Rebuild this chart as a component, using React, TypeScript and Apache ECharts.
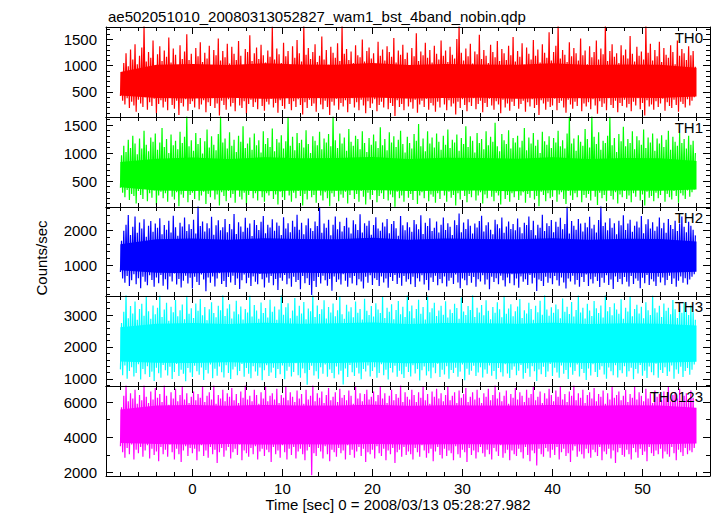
import { useEffect, useRef } from 'react';
import * as echarts from 'echarts';

// ---------------- text ----------------
const TITLE = 'ae502051010_20080313052827_wam1_bst_4band_nobin.qdp';
const X_NAME = 'Time [sec] 0 = 2008/03/13 05:28:27.982';
const Y_NAME = 'Counts/sec';
const PANEL_NAMES = ['TH0', 'TH1', 'TH2', 'TH3', 'TH0123'];
const COLORS = ['#ff0000', '#00ff00', '#0000ff', '#00ffff', '#ff00ff'];

// ---------------- axes ----------------
const X_MIN = -9.6;
const X_MAX = 57.5;
const X_MAJOR = 10;
const X_MINOR = 2;
const Y_MIN = [20, 35, 150, 780, 1810];
const Y_MAX = [1740, 1645, 2645, 3595, 6910];
const Y_MAJOR = [500, 500, 1000, 1000, 2000];
const Y_MINOR = [100, 100, 200, 200, 1000];

// ---------------- time bins ----------------
// each bin: low sample at its start, high sample half a bin later
const BIN_START = -8;
const BIN_STEP = 0.25;
// dense core of the light curve, sampled every 4 s
const CORE_START = -8;
const CORE_STEP = 4;

// ---------------- TH0 ----------------
const th0Hi = [
  880, 1050, 1240, 990, 1310, 1120, 1410, 1030, 1190, 1350, 1770, 1080, 1260, 1150, 1480, 1000,
  1220, 1370, 1090, 1290, 1170, 1540, 1060, 1330, 1210, 980, 1390, 1130, 1270, 1600, 1110, 1230,
  1020, 1340, 1180, 1450, 1070, 1250, 1140, 1380, 960, 1300, 1200, 1520, 1100, 1280, 1160, 1420,
  1040, 1360, 1230, 1110, 1470, 1190, 1010, 1320, 1260, 1580, 1090, 1240, 1350, 1130, 1400, 1200,
  1060, 1290, 1170, 1750, 1120, 1330, 1220, 1050, 1440, 1180, 1280, 1000, 1370, 1150, 1490, 1240,
  1080, 1780, 1210, 1340, 1130, 1260, 1410, 1070, 1190, 1560, 1120, 1300, 1020, 1360, 1250, 1150,
  1430, 1090, 1760, 1230, 1320, 1110, 1270, 1050, 1390, 1200, 1160, 1500, 1080, 1280, 1350, 1140,
  1240, 1020, 1460, 1190, 1310, 1100, 1370, 1260, 1170, 1530, 1060, 1290, 1210, 1400, 1130, 1250,
  1010, 1340, 1180, 1620, 1090, 1270, 1200, 1440, 1150, 1300, 1060, 1380, 1230, 1120, 1480, 1190,
  1290, 1070, 1360, 1210, 1140, 1510, 1780, 1250, 1100, 1330, 1180, 1420, 1040, 1270, 1220, 1590,
  1130, 1300, 1190, 1050, 1400, 1260, 1160, 1470, 1090, 1320, 1240, 1110, 1380, 1200, 1550, 1080,
  1280, 1170, 1430, 1020, 1350, 1230, 1120, 1490, 1190, 1310, 1060, 1410, 1250, 1150, 1640, 1100,
  1260, 1380, 1790, 1140, 1300, 1210, 1070, 1450, 1180, 1340, 1240, 1100, 1520, 1200, 1290, 1030,
  1370, 1160, 1260, 1480, 1120, 1330, 1220, 1770, 1090, 1280, 1410, 1170, 1240, 1050, 1390, 1200,
  1310, 1140, 1570, 1230, 1080, 1360, 1190, 1270, 1120, 1760, 1250, 1420, 1100, 1300, 1180, 1460,
  1070, 1340, 1210, 1150, 1390, 1260, 1030, 1480, 1190, 1320, 1240, 1110, 1370, 1200, 1280, 980,
];
const th0Lo = [
  420, 330, 260, 380, 190, 310, 240, 120, 350, 280, 210, 400, 160, 300, 230, 370,
  90, 270, 340, 200, 310, 150, 390, 250, 180, 330, 60, 290, 220, 360, 140, 270,
  320, 200, 410, 170, 260, 340, 110, 300, 230, 380, 190, 280, 50, 330, 250, 160,
  360, 220, 290, 130, 400, 240, 190, 320, 80, 270, 350, 210, 300, 170, 380, 230,
  140, 310, 260, 370, 200, 290, 100, 340, 230, 180, 400, 270, 150, 320, 210, 360,
  250, 70, 300, 190, 350, 230, 280, 120, 390, 260, 170, 330, 210, 60, 310, 240,
  370, 160, 290, 220, 340, 110, 270, 380, 200, 300, 150, 350, 240, 90, 320, 190,
  280, 360, 130, 250, 310, 200, 400, 170, 290, 230, 40, 340, 210, 270, 150, 380,
  220, 300, 180, 350, 100, 260, 330, 210, 370, 160, 290, 240, 120, 310, 200, 390,
  260, 150, 340, 220, 280, 70, 310, 190, 360, 250, 130, 300, 230, 380, 170, 270,
  330, 110, 290, 210, 370, 240, 160, 320, 260, 90, 350, 200, 280, 140, 310, 230,
  390, 180, 270, 330, 120, 300, 220, 360, 190, 250, 60, 340, 280, 160, 310, 210,
  240, 370, 150, 290, 330, 200, 100, 350, 260, 180, 310, 230, 390, 130, 280, 220,
  300, 170, 360, 240, 80, 320, 210, 280, 150, 380, 250, 190, 330, 110, 290, 230,
  350, 200, 270, 130, 310, 240, 380, 170, 290, 50, 340, 220, 260, 160, 320, 210,
  280, 370, 140, 300, 230, 190, 350, 250, 120, 310, 270, 200, 360, 240, 330, 400,
];
const th0CoreLo = [430, 385, 375, 390, 370, 385, 380, 395, 375, 385, 390, 370, 385, 380, 390, 385, 410];
const th0CoreHi = [880, 1020, 1035, 1015, 1045, 1025, 1020, 1050, 1015, 1035, 1025, 1020, 1045, 1015, 1025, 1020, 960];

// ---------------- TH1 ----------------
const th1Hi = [
  960, 1130, 1020, 1240, 1090, 1310, 1170, 980, 1260, 1080, 1400, 1150, 1030, 1280, 1200, 1350,
  1060, 1190, 1450, 1110, 1250, 1000, 1330, 1140, 1220, 1070, 1380, 1180, 1290, 1660, 1120, 1230,
  1040, 1360, 1160, 1270, 990, 1210, 1420, 1100, 1300, 1150, 1050, 1340, 1660, 1190, 1260, 1080,
  1370, 1130, 1240, 1020, 1310, 1200, 1480, 1090, 1170, 1280, 1060, 1350, 1140, 1230, 1010, 1390,
  1160, 1270, 1110, 1440, 1030, 1250, 1190, 1320, 1080, 1210, 1650, 1130, 1290, 1050, 1360, 1180,
  1240, 1100, 1410, 1160, 1000, 1300, 1220, 1140, 1380, 1070, 1260, 1190, 1340, 1120, 1660, 1230,
  1090, 1350, 1170, 1280, 1040, 1430, 1200, 1130, 1310, 1250, 1070, 1390, 1180, 1020, 1270, 1150,
  1330, 1210, 1090, 1460, 1140, 1250, 1050, 1370, 1190, 1300, 1110, 1240, 1400, 1160, 1010, 1290,
  1180, 1080, 1340, 1220, 1520, 1120, 1260, 1030, 1390, 1170, 1280, 1100, 1350, 1200, 1060, 1310,
  1150, 1420, 1090, 1240, 1190, 1330, 1040, 1270, 1160, 1480, 1110, 1300, 1220, 1010, 1360, 1180,
  1250, 1070, 1390, 1140, 1290, 1200, 1540, 1120, 1030, 1340, 1230, 1160, 1410, 1080, 1270, 1190,
  1310, 1100, 1220, 1450, 1050, 1280, 1170, 1360, 1130, 1240, 1000, 1380, 1210, 1150, 1300, 1090,
  1270, 1190, 1400, 1120, 1230, 1080, 1350, 1660, 1170, 1260, 1040, 1320, 1200, 1130, 1430, 1250,
  1100, 1660, 1290, 1160, 1370, 1060, 1220, 1180, 1310, 1650, 1140, 1270, 1020, 1340, 1210, 1470,
  1120, 1250, 1180, 1390, 1070, 1300, 1230, 1150, 1420, 1090, 1280, 1190, 1350, 1040, 1260, 1170,
  1320, 1110, 1240, 1400, 1060, 1290, 1200, 1130, 1360, 1180, 1250, 1080, 1310, 1150, 1220, 1000,
];
const th1Lo = [
  380, 290, 210, 340, 160, 270, 230, 100, 320, 250, 180, 360, 140, 280, 200, 330,
  70, 240, 310, 190, 280, 130, 350, 220, 170, 300, 50, 260, 200, 330, 120, 250,
  290, 180, 370, 150, 240, 310, 90, 270, 210, 340, 170, 260, 60, 300, 230, 140,
  320, 200, 270, 110, 360, 220, 170, 290, 70, 250, 320, 190, 280, 150, 340, 210,
  130, 280, 240, 330, 180, 260, 80, 310, 210, 160, 370, 240, 130, 290, 190, 320,
  230, 60, 270, 170, 320, 210, 250, 110, 350, 240, 150, 300, 190, 50, 280, 220,
  330, 140, 260, 200, 310, 100, 250, 340, 180, 270, 130, 320, 220, 80, 290, 170,
  250, 330, 120, 230, 280, 180, 360, 150, 260, 210, 40, 310, 190, 240, 130, 340,
  200, 270, 160, 320, 90, 240, 300, 190, 340, 140, 260, 220, 110, 280, 180, 350,
  240, 130, 310, 200, 250, 60, 280, 170, 330, 230, 120, 270, 210, 350, 150, 240,
  300, 100, 260, 190, 340, 220, 140, 290, 240, 80, 320, 180, 250, 130, 280, 210,
  350, 160, 240, 300, 110, 270, 200, 330, 170, 230, 50, 310, 250, 140, 280, 190,
  220, 340, 130, 260, 300, 180, 90, 320, 240, 160, 280, 210, 360, 120, 250, 200,
  270, 150, 330, 220, 70, 290, 190, 250, 140, 350, 230, 170, 300, 100, 260, 210,
  320, 180, 240, 120, 280, 220, 350, 150, 260, 60, 310, 200, 230, 140, 290, 190,
  250, 340, 130, 270, 210, 170, 320, 230, 110, 280, 240, 180, 330, 220, 300, 350,
];
const th1CoreLo = [390, 330, 320, 335, 315, 330, 325, 340, 320, 325, 330, 315, 335, 325, 330, 325, 350];
const th1CoreHi = [840, 900, 920, 895, 925, 905, 910, 930, 895, 915, 910, 900, 925, 895, 910, 905, 860];

// ---------------- TH2 ----------------
const th2Hi = [
  1700, 1980, 2150, 2420, 1860, 2090, 2380, 1920, 2210, 2040, 2300, 1810, 2120, 2250, 1950, 2180,
  2060, 2330, 1880, 2140, 2010, 2260, 1930, 2400, 2080, 1840, 2200, 2100, 2350, 1970, 2160, 2030,
  2290, 1900, 2680, 2110, 2240, 1960, 2190, 2050, 2370, 1870, 2130, 2270, 1990, 2080, 2310, 1940,
  2170, 2020, 2450, 1890, 2220, 2100, 1950, 2340, 2060, 2180, 1830, 2280, 2140, 2000, 2230, 2390,
  1910, 2150, 2070, 2300, 1980, 2210, 2120, 1860, 2360, 2040, 2190, 1940, 2260, 2090, 2430, 2010,
  2200, 1880, 2130, 2320, 2050, 1970, 2240, 2110, 2650, 1920, 2180, 2060, 2290, 1850, 2150, 2380,
  2020, 2230, 1960, 2110, 2340, 2070, 1900, 2270, 2160, 2000, 2440, 1930, 2190, 2120, 2260, 1870,
  2140, 2360, 2040, 1980, 2210, 2100, 2310, 1910, 2170, 2250, 2050, 1840, 2390, 2130, 1990, 2220,
  2080, 1950, 2280, 2160, 2020, 2410, 1890, 2200, 2110, 2330, 1970, 2060, 2240, 1930, 2150, 2350,
  2000, 2190, 2090, 1860, 2270, 2140, 2460, 1940, 2210, 2030, 2300, 2120, 1900, 2180, 2070, 2250,
  2400, 1960, 2130, 2220, 2010, 1880, 2290, 2160, 2050, 2350, 1920, 2100, 2240, 2030, 2170, 1990,
  2320, 2080, 1910, 2200, 2140, 2380, 2000, 2260, 1850, 2150, 2060, 2430, 1970, 2190, 2110, 2280,
  1940, 2230, 2090, 2340, 2020, 2170, 2660, 1900, 2250, 2120, 2010, 2310, 2180, 1960, 2200, 2080,
  2370, 2040, 2150, 1930, 2280, 2670, 2110, 2210, 1990, 2330, 2060, 2190, 1880, 2260, 2130, 2410,
  2000, 2180, 2290, 1950, 2120, 2240, 2070, 2390, 1910, 2160, 2300, 2040, 2220, 1980, 2100, 2350,
  2050, 2200, 1920, 2310, 2140, 2030, 2260, 1970, 2180, 2380, 2090, 1940, 2230, 2120, 2010, 1850,
];
const th2Lo = [
  820, 640, 520, 710, 430, 590, 760, 480, 650, 370, 690, 550, 450, 730, 600, 410,
  670, 510, 740, 440, 620, 330, 700, 560, 780, 470, 630, 390, 580, 720, 500, 660,
  360, 690, 540, 460, 750, 610, 280, 670, 520, 700, 420, 640, 790, 490, 570, 400,
  680, 530, 720, 460, 640, 350, 590, 750, 510, 660, 430, 700, 550, 480, 770, 620,
  390, 670, 520, 710, 450, 630, 320, 660, 580, 740, 480, 640, 410, 690, 540, 600,
  340, 710, 510, 650, 460, 180, 570, 400, 680, 500, 720, 590, 440, 630, 300, 700,
  540, 610, 470, 760, 580, 410, 660, 500, 710, 450, 620, 560, 360, 690, 520, 730,
  460, 650, 600, 430, 700, 530, 640, 380, 680, 570, 740, 490, 660, 440, 710, 550,
  620, 480, 690, 400, 650, 560, 730, 470, 600, 310, 670, 540, 720, 450, 630, 510,
  700, 420, 580, 660, 490, 750, 530, 370, 640, 590, 450, 710, 520, 680, 410, 620,
  560, 730, 470, 610, 340, 690, 540, 650, 480, 720, 590, 420, 670, 510, 760, 450,
  640, 380, 700, 550, 620, 460, 740, 500, 660, 290, 610, 570, 430, 690, 520, 650,
  480, 710, 590, 440, 670, 530, 360, 640, 560, 720, 470, 600, 410, 680, 540, 750,
  430, 620, 500, 690, 570, 400, 660, 520, 730, 460, 610, 350, 700, 540, 630, 480,
  680, 550, 420, 710, 490, 640, 580, 370, 660, 510, 740, 460, 620, 560, 430, 690,
  530, 670, 450, 600, 720, 490, 640, 410, 580, 700, 520, 650, 470, 610, 690, 760,
];
const th2CoreLo = [870, 800, 790, 810, 780, 800, 790, 805, 785, 795, 800, 780, 805, 790, 800, 795, 830];
const th2CoreHi = [1600, 1740, 1760, 1730, 1770, 1750, 1740, 1780, 1730, 1760, 1750, 1740, 1770, 1730, 1755, 1745, 1680];

// ---------------- TH3 ----------------
const th3Hi = [
  2750, 3100, 3640, 2900, 3280, 3050, 3420, 2850, 3190, 3350, 2980, 3560, 3120, 2880, 3300, 3020,
  3230, 3620, 2940, 3170, 3380, 2820, 3260, 3090, 3470, 2960, 3150, 3330, 2870, 3600, 3040, 3210,
  2910, 3360, 3130, 3500, 2990, 3250, 2840, 3180, 3400, 3060, 2930, 3290, 3150, 3640, 2970, 3200,
  3340, 2890, 3110, 3450, 3020, 3270, 2860, 3190, 3080, 3620, 2950, 3310, 3140, 2880, 3390, 3060,
  3220, 2920, 3480, 3100, 3270, 2850, 3170, 3630, 3010, 3240, 3370, 2900, 3140, 3530, 2980, 3290,
  3050, 3410, 2870, 3200, 3120, 3640, 2940, 3300, 3030, 3180, 3460, 2890, 3250, 3080, 3360, 2960,
  3150, 3600, 3020, 2880, 3320, 3110, 3240, 2930, 3420, 3070, 3190, 2860, 3510, 3130, 3000, 3280,
  2950, 3370, 3170, 3060, 3590, 2910, 3230, 3100, 3340, 2870, 3160, 3440, 3020, 3260, 2940, 3640,
  3120, 3300, 2900, 3190, 3480, 3040, 3250, 2860, 3620, 3090, 3210, 3380, 2970, 3140, 3290, 3010,
  3430, 2920, 3170, 3060, 3350, 3220, 2880, 3550, 3110, 3000, 3280, 3160, 3640, 2940, 3230, 3080,
  3310, 2990, 3460, 3130, 2870, 3250, 3070, 3400, 3180, 2930, 3600, 3040, 3200, 3340, 2960, 3120,
  3270, 3500, 2910, 3150, 3050, 3380, 3190, 2850, 3290, 3090, 3450, 3010, 3640, 3170, 2980, 3240,
  3070, 3330, 3180, 2900, 3520, 3100, 3260, 3030, 3410, 2950, 3160, 3620, 3080, 3230, 2890, 3350,
  3140, 2970, 3440, 3210, 3060, 3300, 2920, 3640, 3120, 3250, 2990, 3370, 3170, 3040, 3490, 2880,
  3230, 3110, 3580, 2960, 3190, 3320, 3050, 3260, 2900, 3400, 3150, 3000, 3610, 3210, 3080, 3290,
  2940, 3360, 3130, 3230, 3020, 3470, 3180, 2910, 3280, 3070, 3390, 3150, 3000, 3300, 3090, 2850,
];
const th3Lo = [
  1300, 1120, 1420, 1010, 1250, 1370, 1080, 1190, 1460, 980, 1310, 1150, 1400, 1060, 1230, 940,
  1350, 1180, 1040, 1440, 1270, 1110, 1380, 1000, 1220, 1470, 1090, 1290, 1160, 930, 1340, 1200,
  1060, 1410, 1240, 1130, 1360, 970, 1280, 1170, 1450, 1020, 1320, 1100, 1390, 1210, 1050, 1430,
  1190, 1000, 1300, 1380, 1120, 1250, 1470, 1070, 1340, 1160, 1020, 1400, 1230, 1100, 1360, 960,
  1270, 1430, 1090, 1200, 1350, 1030, 1310, 1150, 1420, 990, 1260, 1380, 1080, 1220, 1490, 1120,
  1040, 1330, 1180, 820, 1280, 1410, 1110, 1240, 1010, 1370, 1160, 1450, 1070, 1300, 1190, 1020,
  1390, 1140, 1260, 830, 1330, 1060, 1440, 1210, 1090, 1350, 1170, 990, 1310, 1230, 1420, 1080,
  1250, 1370, 1040, 1190, 1460, 1120, 1290, 980, 1340, 1200, 1410, 1070, 1260, 1150, 1030, 1380,
  1220, 1080, 1430, 1170, 1310, 950, 1270, 1390, 1110, 1240, 1020, 1360, 1180, 1480, 1060, 1290,
  1140, 1400, 1010, 1280, 1190, 1350, 1070, 1230, 1450, 960, 1320, 1130, 1260, 1410, 1090, 1200,
  1370, 1050, 1300, 1160, 1420, 1100, 1250, 990, 1340, 1210, 1080, 1460, 1170, 1030, 1290, 1390,
  1120, 1260, 1440, 1010, 1190, 1330, 1070, 1400, 1240, 940, 1300, 1150, 1380, 1060, 1230, 1470,
  1090, 1350, 1200, 1040, 1420, 1160, 1280, 1000, 1370, 1130, 1250, 1450, 1080, 1310, 1190, 970,
  1330, 1110, 1460, 1220, 1060, 1290, 1400, 1140, 1010, 1360, 1240, 1120, 1430, 1050, 1270, 1180,
  1400, 1070, 1240, 1350, 990, 1310, 1170, 1440, 1100, 1260, 1030, 1390, 1210, 1120, 1480, 1040,
  1280, 1190, 1370, 1090, 1230, 1420, 1010, 1300, 1160, 1380, 1060, 1250, 1340, 1130, 1290, 1450,
];
const th3CoreLo = [1550, 1510, 1500, 1520, 1490, 1510, 1500, 1520, 1495, 1505, 1510, 1490, 1515, 1500, 1510, 1505, 1540];
const th3CoreHi = [2620, 2730, 2750, 2720, 2760, 2730, 2740, 2770, 2720, 2750, 2740, 2730, 2760, 2720, 2740, 2730, 2670];

// ---------------- TH0123 ----------------
const th0123Hi = [
  5700, 6350, 6950, 6050, 6500, 6200, 6700, 5900, 6400, 6100, 6950, 6300, 5950, 6600, 6150, 6800,
  6250, 6450, 6000, 6950, 6350, 5850, 6550, 6200, 6750, 6050, 6400, 6900, 6150, 6500, 5950, 6300,
  6600, 6100, 6450, 6250, 6850, 6000, 6350, 6550, 6150, 6950, 5900, 6400, 6200, 6700, 6050, 6500,
  6300, 6800, 6100, 6450, 5950, 6600, 6250, 6950, 6150, 6350, 6050, 6700, 6400, 5900, 6550, 6200,
  6850, 6050, 6350, 6500, 6150, 6750, 5950, 6400, 6250, 6900, 6100, 6550, 6300, 6000, 6650, 6200,
  6450, 5900, 6700, 6150, 6350, 6950, 6050, 6500, 6250, 6600, 5950, 6400, 6800, 6100, 6300, 6550,
  6000, 6750, 6250, 6400, 6100, 6650, 6350, 5900, 6900, 6200, 6500, 6050, 6450, 6700, 6150, 6300,
  6600, 6050, 6400, 6850, 6200, 6500, 5950, 6350, 6700, 6100, 6450, 6250, 6950, 6000, 6550, 6300,
  6150, 6700, 6400, 6000, 6550, 6250, 6850, 6100, 6450, 5900, 6600, 6300, 6750, 6200, 6500, 6050,
  6400, 6900, 6100, 6350, 6550, 5950, 6650, 6250, 6450, 6800, 6000, 6300, 6550, 6150, 6700, 6250,
  5950, 6500, 6300, 6750, 6100, 6400, 6950, 6200, 6550, 6050, 6350, 6650, 5900, 6450, 6250, 6800,
  6150, 6550, 6350, 6000, 6700, 6250, 6450, 6900, 6100, 6300, 6600, 5950, 6500, 6200, 6750, 6400,
  6050, 6650, 6300, 6850, 6150, 6450, 6000, 6600, 6350, 6950, 6100, 6500, 6250, 6700, 5950, 6400,
  6550, 6200, 6800, 6050, 6450, 6300, 6650, 5900, 6500, 6150, 6900, 6250, 6400, 6600, 6100, 6350,
  6700, 6000, 6450, 6250, 6850, 6150, 6550, 6350, 6050, 6750, 6200, 6500, 5950, 6650, 6300, 6450,
  6100, 6600, 6250, 6900, 6050, 6400, 6550, 6200, 6750, 6000, 6350, 6500, 6150, 6650, 6250, 5600,
];
const th0123Lo = [
  3500, 3150, 2850, 3400, 3050, 3600, 2750, 3300, 3100, 3450, 2900, 3250, 3550, 2800, 3350, 3000,
  3200, 2650, 3450, 3050, 3300, 2900, 3600, 3150, 2750, 3350, 3050, 2600, 3250, 3500, 2950, 3400,
  3100, 3350, 2700, 3200, 3550, 2950, 3250, 2850, 3450, 3050, 3300, 2550, 3150, 3400, 2900, 3250,
  3450, 2800, 3150, 3350, 3000, 3600, 2700, 3250, 3100, 2900, 3400, 3050, 3500, 2750, 3200, 3350,
  2950, 3300, 3150, 2600, 3450, 3050, 3250, 2850, 3550, 3150, 2750, 3350, 3000, 3450, 2800, 3200,
  3350, 3050, 2700, 3250, 3450, 1850, 3100, 2950, 3400, 3200, 2800, 3500, 3050, 2650, 3300, 3150,
  2900, 3400, 3100, 3250, 2750, 3550, 3000, 3300, 2850, 3200, 3450, 2950, 3350, 2600, 3150, 3050,
  3300, 2800, 3500, 3100, 2950, 3350, 2700, 3250, 3050, 3400, 2550, 3150, 3300, 2900, 3450, 3000,
  3200, 3050, 2750, 3400, 3150, 2900, 3550, 3250, 2850, 3100, 3350, 2650, 3200, 3450, 3000, 2800,
  3350, 2950, 3250, 3100, 2700, 3500, 3050, 2850, 3300, 3150, 2600, 3400, 3000, 3250, 2800, 3150,
  3450, 3100, 2900, 3300, 3050, 2750, 3400, 3200, 2950, 3550, 2850, 3100, 3300, 2700, 3250, 3050,
  2950, 3350, 3150, 2800, 3450, 3000, 2650, 3250, 3100, 2400, 3350, 3050, 2900, 3400, 3200, 2850,
  3300, 3000, 3450, 2750, 3150, 3350, 2950, 3100, 2600, 3250, 3500, 2900, 3200, 3050, 2800, 3350,
  3100, 2850, 3300, 3150, 2950, 3450, 2700, 3200, 3050, 3350, 2800, 3250, 2550, 3150, 3400, 3000,
  2900, 3300, 3050, 2750, 3400, 3150, 2850, 3350, 3000, 3200, 2650, 3450, 3100, 2950, 3250, 3050,
  3350, 2800, 3200, 3050, 2900, 3450, 3100, 2700, 3300, 3150, 2950, 3400, 3050, 3250, 3150, 3400,
];
const th0123CoreLo = [3680, 3620, 3600, 3630, 3590, 3610, 3600, 3620, 3595, 3610, 3615, 3590, 3620, 3600, 3610, 3605, 3650];
const th0123CoreHi = [5580, 5800, 5830, 5790, 5840, 5810, 5800, 5850, 5790, 5820, 5810, 5800, 5830, 5790, 5820, 5800, 5680];

const HI = [th0Hi, th1Hi, th2Hi, th3Hi, th0123Hi];
const LO = [th0Lo, th1Lo, th2Lo, th3Lo, th0123Lo];
const CORE_LO = [th0CoreLo, th1CoreLo, th2CoreLo, th3CoreLo, th0123CoreLo];
const CORE_HI = [th0CoreHi, th1CoreHi, th2CoreHi, th3CoreHi, th0123CoreHi];

const FONT_FAMILY = '"Liberation Sans", Arial, Helvetica, sans-serif';
const FONT = `15px ${FONT_FAMILY}`;

function isMultiple(v: number, step: number) {
  const r = v / step;
  return Math.abs(r - Math.round(r)) < 1e-6;
}

function buildOption() {
  const LEFT = 106;
  const RIGHT = 710;
  const TOPS = [27, 117, 207, 296, 386];
  const BOTTOM = 476;

  const grids: any[] = [];
  const xAxes: any[] = [];
  const yAxes: any[] = [];
  const series: any[] = [];
  const graphics: any[] = [];

  for (let k = 0; k < 5; k++) {
    const top = TOPS[k];
    const bottom = k < 4 ? TOPS[k + 1] : BOTTOM;
    grids.push({ left: LEFT, top, width: RIGHT - LEFT, height: bottom - top, containLabel: false });

    const xBase = xAxes.length;
    for (const pos of ['bottom', 'top']) {
      for (const [step, len] of [[X_MAJOR, 7], [X_MINOR, 4]]) {
        const isMain = step === X_MAJOR;
        xAxes.push({
          type: 'value', gridIndex: k, position: pos, min: X_MIN, max: X_MAX,
          minInterval: step, maxInterval: step,
          axisLine: { show: isMain, onZero: false, lineStyle: { color: '#000', width: 1 } },
          axisTick: { show: true, inside: true, length: len, lineStyle: { color: '#000', width: 1 } },
          axisLabel: {
            show: isMain && pos === 'bottom' && k === 4, margin: 5, color: '#000',
            fontSize: 15, fontFamily: FONT_FAMILY, lineHeight: 15,
            formatter: (v: number) => (isMultiple(v, X_MAJOR) ? String(v) : ''),
          },
          splitLine: { show: false }, z: 5,
        });
      }
    }
    const yBase = yAxes.length;
    for (const pos of ['left', 'right']) {
      for (const [step, len] of [[Y_MAJOR[k], 7], [Y_MINOR[k], 4]]) {
        const isMain = step === Y_MAJOR[k];
        const major = Y_MAJOR[k];
        yAxes.push({
          type: 'value', gridIndex: k, position: pos, min: Y_MIN[k], max: Y_MAX[k],
          minInterval: step, maxInterval: step,
          axisLine: { show: isMain, onZero: false, lineStyle: { color: '#000', width: 1 } },
          axisTick: { show: true, inside: true, length: len, lineStyle: { color: '#000', width: 1 } },
          axisLabel: {
            show: isMain && pos === 'left', margin: 9, color: '#000',
            fontSize: 15, fontFamily: FONT_FAMILY,
            formatter: (v: number) => (isMultiple(v, major) ? String(v) : ''),
          },
          splitLine: { show: false }, z: 5,
        });
      }
    }

    const color = COLORS[k];

    // solid core band
    const coreLo = CORE_LO[k];
    const coreHi = CORE_HI[k];
    const coreT = coreLo.map((_, j) => CORE_START + CORE_STEP * j);
    series.push({
      type: 'custom', xAxisIndex: xBase, yAxisIndex: yBase, silent: true, clip: true, z: 2,
      data: [[coreT[0], coreLo[0]]],
      renderItem: (_params: any, api: any) => {
        const pts: number[][] = [];
        for (let j = 0; j < coreT.length; j++) pts.push(api.coord([coreT[j], coreHi[j]]));
        for (let j = coreT.length - 1; j >= 0; j--) pts.push(api.coord([coreT[j], coreLo[j]]));
        return { type: 'polygon', shape: { points: pts }, style: { fill: color } };
      },
    });

    // noisy samples
    const hi = HI[k];
    const lo = LO[k];
    const n = Math.min(hi.length, lo.length);
    const zig: number[][] = [];
    for (let i = 0; i < n; i++) {
      const t = BIN_START + BIN_STEP * i;
      zig.push([t, lo[i]]);
      zig.push([t + BIN_STEP / 2, hi[i]]);
    }
    series.push({
      type: 'line', xAxisIndex: xBase, yAxisIndex: yBase, data: zig,
      symbol: 'none', showSymbol: false, silent: true, clip: true, z: 3,
      lineStyle: { color, width: 1.2 }, itemStyle: { color },
    });

    graphics.push({
      type: 'text', x: 703, y: top + 10, z: 100,
      style: { text: PANEL_NAMES[k], font: FONT, fill: '#000', align: 'right', verticalAlign: 'middle' },
    });
  }

  graphics.push({
    type: 'text', x: 108, y: 16, z: 100,
    style: { text: TITLE, font: FONT, fill: '#000', align: 'left', verticalAlign: 'middle' },
  });
  graphics.push({
    type: 'text', x: 398, y: 504, z: 100,
    style: { text: X_NAME, font: FONT, fill: '#000', align: 'center', verticalAlign: 'middle', lineHeight: 15 },
  });
  graphics.push({
    type: 'text', x: 41.5, y: 258, rotation: Math.PI / 2, z: 100,
    style: { text: Y_NAME, font: FONT, fill: '#000', align: 'center', verticalAlign: 'middle' },
  });

  return {
    animation: false,
    backgroundColor: '#ffffff',
    grid: grids,
    xAxis: xAxes,
    yAxis: yAxes,
    series,
    graphic: graphics,
  };
}

export default function App() {
  const ref = useRef<HTMLDivElement>(null);
  useEffect(() => {
    if (!ref.current) return;
    const chart = echarts.init(ref.current, null, { renderer: 'svg' });
    chart.setOption(buildOption() as any);
    return () => chart.dispose();
  }, []);
  return <div ref={ref} style={{ position: 'absolute', left: 0, top: 0, width: 717, height: 516 }} />;
}
